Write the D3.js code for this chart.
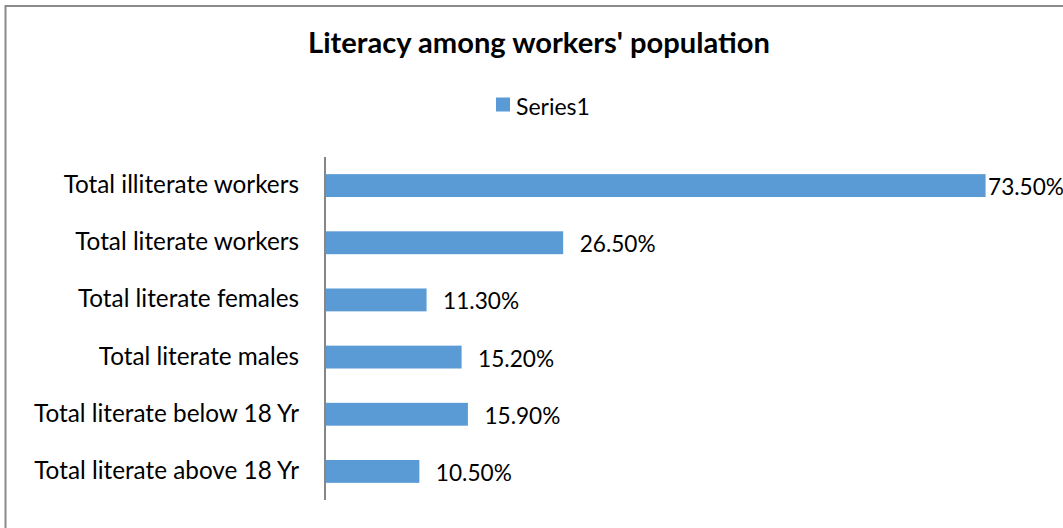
<!DOCTYPE html>
<html>
<head>
<meta charset="utf-8">
<script src="https://cdn.jsdelivr.net/npm/d3@7"></script>
<style>
  html, body { margin: 0; padding: 0; background: #fff; overflow: hidden; }
  svg { display: block; }
</style>
</head>
<body>
<svg id="chart" width="1063" height="528"></svg>
<script>
// Chart data
const categories = [
  "Total illiterate workers",
  "Total literate workers",
  "Total literate females",
  "Total literate males",
  "Total literate below 18 Yr",
  "Total literate above 18 Yr"
];
const values = [73.5, 26.5, 11.3, 15.2, 15.9, 10.5];
const seriesName = "Series1";
const chartTitle = "Literacy among workers' population";

const W = 1063, H = 528;
const FONT = "Lato, 'Open Sans', sans-serif";
const BAR = "#5b9bd5";

const svg = d3.select("#chart");

// Pick a font size so that a sample string renders at a given width
function fitSize(text, width, weight) {
  const t = svg.append("text")
    .attr("font-family", FONT)
    .attr("font-weight", weight || "normal")
    .attr("font-size", 100)
    .text(text);
  const w = t.node().getComputedTextLength();
  t.remove();
  return 100 * width / w;
}

const catSize = fitSize("Total literate above 18 Yr", 265);
const valSize = fitSize("26.50%", 76);
const titleSize = fitSize(chartTitle, 462, "bold");
const legSize = fitSize(seriesName, 74);

// Outer frame of the chart area
svg.append("rect")
  .attr("x", 5.5).attr("y", 6)
  .attr("width", W + 20).attr("height", H + 20)
  .attr("fill", "#fff")
  .attr("stroke", "#8a8a8a")
  .attr("stroke-width", 2);

// Title
svg.append("text")
  .attr("x", 539).attr("y", 53)
  .attr("text-anchor", "middle")
  .attr("font-family", FONT)
  .attr("font-weight", "bold")
  .attr("font-size", titleSize)
  .attr("fill", "#000")
  .text(chartTitle);

// Legend
const legend = svg.append("g").attr("transform", "translate(496,97.5)");
legend.append("rect")
  .attr("width", 14).attr("height", 14)
  .attr("fill", BAR);
legend.append("text")
  .attr("x", 20).attr("y", 17.5)
  .attr("font-family", FONT)
  .attr("font-size", legSize)
  .attr("fill", "#000")
  .text(seriesName);

// Scales
const x = d3.scaleLinear().domain([0, 80]).range([325, 1044]);
const y = d3.scaleBand()
  .domain(categories)
  .range([157, 500])
  .paddingInner(0.6)
  .paddingOuter(0.3);

// Category axis
const yAxis = svg.append("g")
  .attr("transform", `translate(${x(0)},0)`)
  .call(d3.axisLeft(y).tickSize(0).tickPadding(26));
yAxis.select(".domain")
  .attr("d", `M0,157V500`)
  .attr("stroke", "#868686")
  .attr("stroke-width", 2);
yAxis.selectAll(".tick text")
  .attr("font-family", FONT)
  .attr("font-size", catSize)
  .attr("fill", "#000")
  .attr("dy", null)
  .attr("y", 7.5)
  .style("dominant-baseline", "alphabetic");

const data = categories.map((c, i) => ({ c, v: values[i] }));

// Bars
svg.append("g").selectAll("rect")
  .data(data)
  .join("rect")
  .attr("x", x(0) + 1)
  .attr("y", d => y(d.c))
  .attr("width", d => x(d.v) - x(0) - 1)
  .attr("height", y.bandwidth())
  .attr("fill", BAR);

// Value labels, kept inside the visible area
const labels = svg.append("g").selectAll("text")
  .data(data)
  .join("text")
  .attr("y", d => y(d.c) + y.bandwidth() / 2 + 9.5)
  .attr("font-family", FONT)
  .attr("font-size", valSize)
  .attr("fill", "#000")
  .text(d => d3.format(".2f")(d.v) + "%");
labels.each(function(d) {
  const w = this.getComputedTextLength();
  const pos = Math.min(x(d.v) + 16.5, W + 1 - w);
  d3.select(this).attr("x", Math.max(pos, x(d.v) + 2));
});
</script>
</body>
</html>
